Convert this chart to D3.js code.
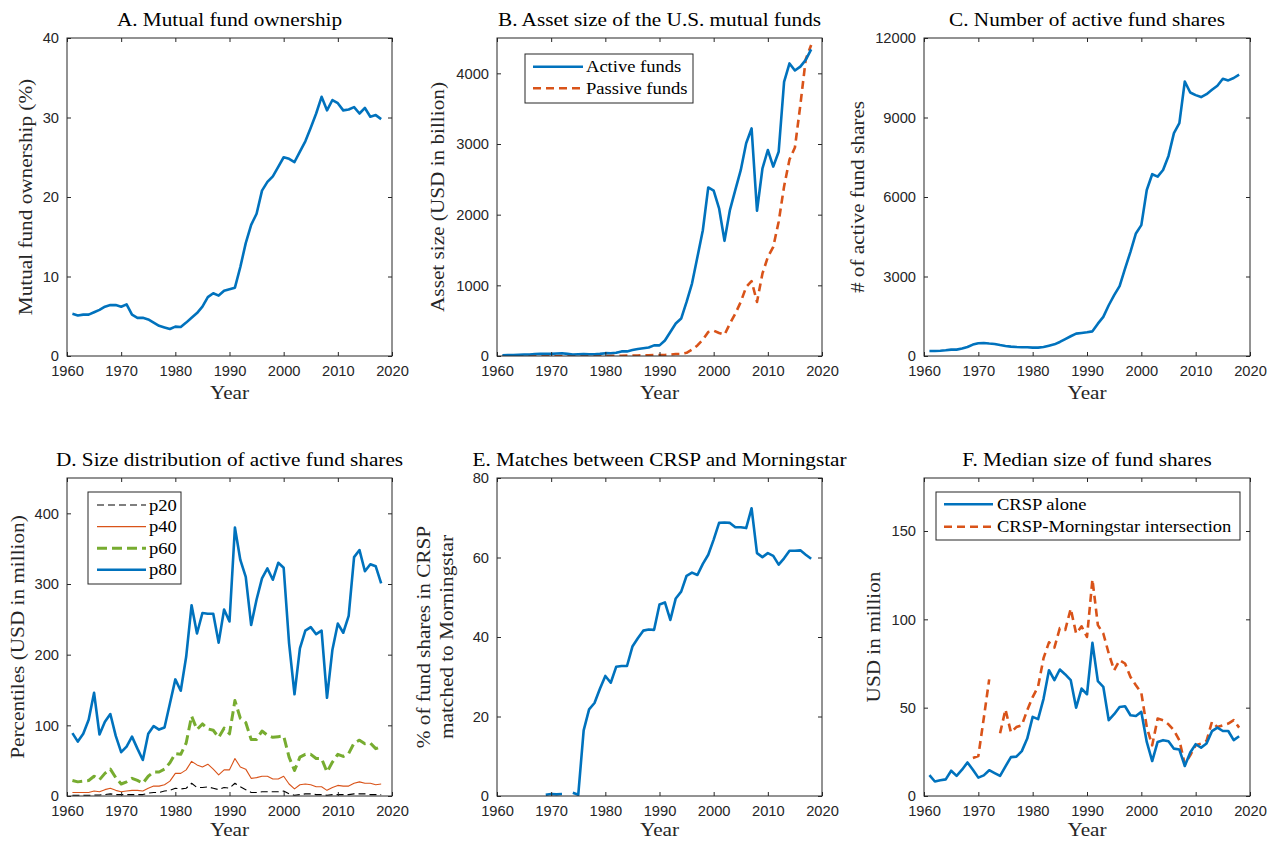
<!DOCTYPE html>
<html><head><meta charset="utf-8">
<script src="https://cdn.jsdelivr.net/npm/d3@7"></script>
<style>body{margin:0;background:#fff}svg{display:block}</style>
</head><body>
<svg id="chart" width="1268" height="841"></svg>
<script>
// ---------------- DATA ----------------
const years = d3.range(1961, 2019);
const xTicks = [1960, 1970, 1980, 1990, 2000, 2010, 2020];

const ownership = [5.3,5.1,5.2,5.2,5.5,5.8,6.2,6.4,6.4,6.2,
  6.5,5.2,4.8,4.8,4.6,4.2,3.8,3.6,3.4,3.7,
  3.65,4.2,4.8,5.4,6.2,7.4,7.9,7.6,8.2,8.4,
  8.6,11.2,14.2,16.5,17.9,20.8,21.9,22.6,23.8,25.0,
  24.8,24.4,25.7,27.0,28.7,30.5,32.6,30.9,32.2,31.8,
  30.9,31.0,31.3,30.5,31.2,30.1,30.3,29.8];
const ownershipTicks = [0,10,20,30,40];

const activeAssets = [10,12,15,18,22,22,28,32,30,30,
  35,38,30,22,25,28,25,25,30,40,
  38,45,65,65,85,100,110,120,150,150,
  220,340,460,530,765,1025,1400,1780,2385,2340,
  2090,1630,2065,2350,2630,3010,3220,2055,2650,2915,
  2680,2890,3880,4140,4040,4095,4190,4340];
const passiveAssets = [0,0,0,0,0,0,0,0,0,0,
  1,1,1,1,1,1,1,2,2,3,
  3,3,4,5,6,8,9,10,12,14,
  15,20,28,30,45,90,150,230,340,360,
  325,300,460,600,765,975,1060,765,1165,1400,
  1545,1900,2400,2780,2950,3550,4200,4400];
const assetTicks = [0,1000,2000,3000,4000];

const activeShares = [190,190,200,215,240,240,280,340,430,480,
  490,470,455,415,380,355,340,330,330,315,
  315,340,390,440,530,640,745,845,870,895,
  930,1220,1475,1915,2295,2635,3300,3930,4625,4940,
  6265,6860,6770,7020,7550,8410,8785,10360,9945,9845,
  9770,9880,10045,10200,10460,10400,10490,10615];
const shareTicks = [0,3000,6000,9000,12000];

const p20 = [1,1,1,1,1.5,1.5,2,3,2,2,
  2,2,2,2,4,5,5,7,8,11,
  10,11,18,12,12,13,11,9,12,11,
  18,13,9,5,5,6,6,6,6,7,
  3,1,2,3,3,2,2,1,2,2,
  2,2,3,3,3,2,2,2];
const p40 = [5,5,5,5,7,6,9,11,8,6,
  7,8,8,7,11,14,14,16,21,32,
  32,37,49,44,41,45,38,30,37,37,
  53,41,38,25,26,28,28,24,24,28,
  17,10,16,17,16,13,13,8,12,15,
  14,14,18,20,18,18,16,17];
const p60 = [22,20,21,22,28,23,32,38,26,17,
  20,25,22,18,28,34,34,38,47,60,
  59,75,113,94,102,95,93,83,96,88,
  135,110,104,80,80,92,86,83,84,85,
  55,36,55,59,59,53,53,34,48,59,
  56,60,75,79,74,75,67,70];
const p80 = [89,77,88,108,146,87,105,116,85,62,
  70,84,67,51,88,99,94,97,131,165,
  149,197,270,230,259,258,258,217,264,247,
  380,334,310,242,278,308,322,306,330,323,
  216,144,209,234,239,229,234,139,207,244,
  231,255,338,348,318,328,325,301];
const pctTicks = [0,100,200,300,400];

const matchPct = [null,null,null,null,null,null,null,null,0.3,0.5,
  0.4,0.5,null,0.8,0.3,16.5,21.8,23.4,27,30.2,
  28.5,32.5,32.7,32.7,37.6,39.7,41.6,41.9,41.8,48.2,
  48.7,44.3,49.7,51.4,55.4,56.2,55.6,58.4,60.7,64.5,
  68.7,68.8,68.7,67.6,67.6,67.4,72.4,61.1,60.1,61.1,
  60.4,58.2,59.8,61.7,61.7,61.8,60.7,59.7];
const matchTicks = [0,20,40,60,80];

const medianCRSP = [11.8,8.2,8.9,9.4,14.3,11.4,14.9,19,14.9,10.4,
  11.7,14.6,13,11.4,16.8,22,22.3,25.4,32.5,44.8,
  43.5,55,71.2,65.6,71.6,68.8,65.6,50,60.8,57.6,
  86.7,65,61.8,42.9,46.3,50.4,50.8,45.7,45.3,47.6,
  30.6,19.8,30.6,31.6,31,26.8,26.3,17,24.6,29.3,
  27.4,29.7,36.7,38.7,36.8,36.8,31.6,33.8];
const medianInter = [null,null,null,null,null,null,null,null,21.5,22.6,
  44,66,null,35.5,49,36,39,40,48.6,56,
  62,78,87,84,95,94,106,92,96,90,
  122.6,96.7,92,80.7,71.2,76.9,75,67.4,62.7,58.4,
  39,28.7,43.8,42.9,40.6,37.2,31.6,18,23,28.7,
  29.7,31.2,42,39,40,41,42.9,38.7];
const medianTicks = [0,50,100,150];

// ---------------- STYLE ----------------
const BLUE = "#0072BD", ORANGE = "#D95319", GREEN = "#77AC30", BLACK = "#000000";
const AX = "#262626";
const SERIF = "'Liberation Serif', 'Times New Roman', serif";
const SANS = "'Liberation Sans', Arial, Helvetica, sans-serif";
const SX = 1.18;

const svg = d3.select("#chart");

function stext(g, x, y, str, o) {
  o = o || {};
  g.append("text")
    .attr("transform", `translate(${x},${y}) rotate(${o.rot || 0}) scale(${o.sx || SX},1)`)
    .attr("text-anchor", o.anchor || "middle")
    .attr("font-family", SERIF)
    .attr("font-size", o.size || 18)
    .attr("fill", o.fill || AX)
    .text(str);
}

function panel(cfg) {
  const [x0, x1] = cfg.xr, [y0, y1] = cfg.yr;
  const x = d3.scaleLinear().domain([1960, 2020]).range([x0, x1]);
  const y = d3.scaleLinear().domain([0, cfg.ymax]).range([y1, y0]);
  const g = svg.append("g");

  const cid = "clip" + cfg.id;
  svg.append("clipPath").attr("id", cid).append("rect")
    .attr("x", x0).attr("y", y0).attr("width", x1 - x0).attr("height", y1 - y0);
  const lg = g.append("g").attr("clip-path", `url(#${cid})`);
  cfg.series.forEach(s => {
    const line = d3.line().defined(d => d[1] != null)
      .x(d => x(d[0])).y(d => y(d[1]));
    lg.append("path")
      .datum(years.map((yr, i) => [yr, s.values[i]]))
      .attr("d", line)
      .attr("fill", "none")
      .attr("stroke", s.color)
      .attr("stroke-width", s.width)
      .attr("stroke-dasharray", s.dash || null)
      .attr("stroke-linejoin", "round");
  });

  g.append("rect").attr("x", x0).attr("y", y0).attr("width", x1 - x0).attr("height", y1 - y0)
    .attr("fill", "none").attr("stroke", AX).attr("stroke-width", 1);

  const tl = 4;
  const xb = g.append("g").attr("transform", `translate(0,${y1})`)
    .call(d3.axisBottom(x).tickValues(xTicks).tickFormat(d3.format("d")).tickSizeInner(-tl).tickSizeOuter(0).tickPadding(10));
  const xt = g.append("g").attr("transform", `translate(0,${y0})`)
    .call(d3.axisTop(x).tickValues(xTicks).tickFormat("").tickSizeInner(-tl).tickSizeOuter(0));
  const yl = g.append("g").attr("transform", `translate(${x0},0)`)
    .call(d3.axisLeft(y).tickValues(cfg.yticks).tickFormat(d3.format("d")).tickSizeInner(-tl).tickSizeOuter(0).tickPadding(8));
  const yr = g.append("g").attr("transform", `translate(${x1},0)`)
    .call(d3.axisRight(y).tickValues(cfg.yticks).tickFormat("").tickSizeInner(-tl).tickSizeOuter(0));
  [xb, xt, yl, yr].forEach(a => {
    a.select(".domain").remove();
    a.selectAll("line").attr("stroke", AX);
    a.selectAll("text").attr("font-family", SANS).attr("font-size", 14.7).attr("fill", AX);
  });
  xb.selectAll("text").attr("dy", "0.71em");

  stext(g, (x0 + x1) / 2, y0 - 12, cfg.title, { fill: "#000" });
  stext(g, (x0 + x1) / 2, y1 + (cfg.yearOffset || 43), "Year");
  cfg.ylabel.forEach((lab, i) => {
    stext(g, cfg.ylx[i], (y0 + y1) / 2, lab, { rot: -90 });
  });

  if (cfg.legend) {
    const L = cfg.legend;
    g.append("rect").attr("x", x0 + L.dx).attr("y", y0 + L.dy).attr("width", L.w).attr("height", L.h)
      .attr("fill", "#fff").attr("stroke", AX).attr("stroke-width", 1);
    L.items.forEach((it, i) => {
      const ry = y0 + L.dy + L.first + i * L.step;
      g.append("line").attr("x1", x0 + L.dx + L.lx0).attr("x2", x0 + L.dx + L.lx1)
        .attr("y1", ry).attr("y2", ry)
        .attr("stroke", it.color).attr("stroke-width", it.width).attr("stroke-dasharray", it.dash || null);
      stext(g, x0 + L.dx + L.tx, ry + 5.5, it.label, { anchor: "start", size: 16, sx: 1.16, fill: "#000" });
    });
  }
}

const solidBlue = v => ({ values: v, color: BLUE, width: 2.6 });

panel({ id: "A", xr: [67, 392], yr: [38, 356], ymax: 40, yticks: ownershipTicks,
  title: "A. Mutual fund ownership", ylabel: ["Mutual fund ownership (%)"], ylx: [31.5],
  series: [solidBlue(ownership)] });

panel({ id: "B", xr: [497, 822], yr: [38, 356], ymax: 4500, yticks: assetTicks,
  title: "B. Asset size of the U.S. mutual funds", ylabel: ["Asset size (USD in billion)"], ylx: [444],
  series: [
    { values: passiveAssets, color: ORANGE, width: 2.6, dash: "8,5" },
    solidBlue(activeAssets)],
  legend: { dx: 28, dy: 16, w: 168, h: 49, first: 12.7, step: 21.6, lx0: 8, lx1: 58, tx: 61,
    items: [
      { label: "Active funds", color: BLUE, width: 2.6 },
      { label: "Passive funds", color: ORANGE, width: 2.6, dash: "8,5" }] } });

panel({ id: "C", xr: [924, 1250], yr: [38, 356], ymax: 12000, yticks: shareTicks,
  title: "C. Number of active fund shares", ylabel: ["# of active fund shares"], ylx: [864],
  series: [solidBlue(activeShares)] });

panel({ id: "D", xr: [67, 392], yr: [478, 796], ymax: 450, yticks: pctTicks, yearOffset: 40,
  title: "D. Size distribution of active fund shares", ylabel: ["Percentiles (USD in million)"], ylx: [23.5],
  series: [
    { values: p20, color: BLACK, width: 1.1, dash: "7,4" },
    { values: p40, color: ORANGE, width: 1.1 },
    { values: p60, color: GREEN, width: 3, dash: "10,5" },
    solidBlue(p80)],
  legend: { dx: 21, dy: 14, w: 93, h: 92, first: 13, step: 21.6, lx0: 9, lx1: 58, tx: 61,
    items: [
      { label: "p20", color: BLACK, width: 1.1, dash: "7,4" },
      { label: "p40", color: ORANGE, width: 1.1 },
      { label: "p60", color: GREEN, width: 3, dash: "10,5" },
      { label: "p80", color: BLUE, width: 2.6 }] } });

panel({ id: "E", xr: [497, 822], yr: [478, 796], ymax: 80, yticks: matchTicks, yearOffset: 40,
  title: "E. Matches between CRSP and Morningstar",
  ylabel: ["% of fund shares in CRSP", "matched to Morningstar"], ylx: [430, 452.5],
  series: [solidBlue(matchPct)] });

panel({ id: "F", xr: [924, 1250], yr: [478, 796], ymax: 180, yticks: medianTicks, yearOffset: 40,
  title: "F. Median size of fund shares", ylabel: ["USD in million"], ylx: [880],
  series: [
    { values: medianInter, color: ORANGE, width: 2.6, dash: "8,5" },
    solidBlue(medianCRSP)],
  legend: { dx: 12, dy: 14, w: 304, h: 48, first: 12.3, step: 22.4, lx0: 8, lx1: 57, tx: 61,
    items: [
      { label: "CRSP alone", color: BLUE, width: 2.6 },
      { label: "CRSP-Morningstar intersection", color: ORANGE, width: 2.6, dash: "8,5" }] } });
</script>
</body></html>
